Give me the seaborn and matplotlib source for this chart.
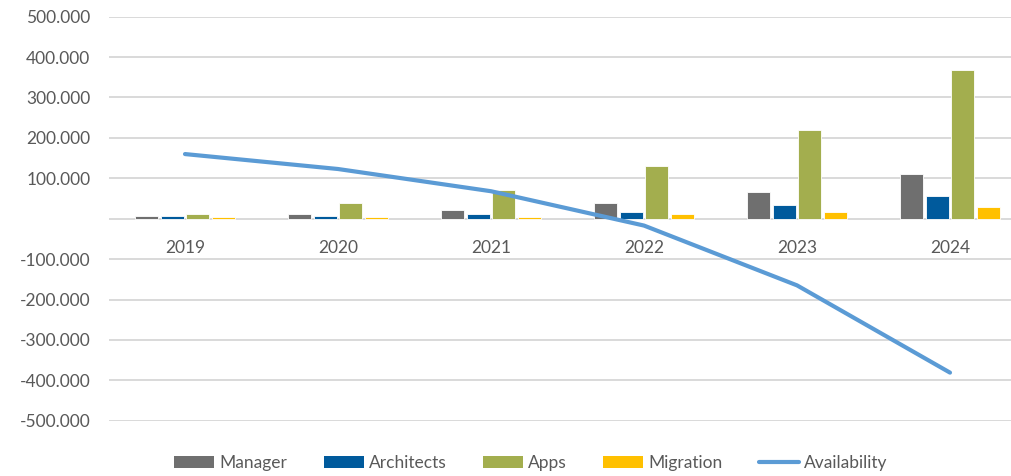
import matplotlib
matplotlib.use("Agg")
from matplotlib import pyplot as plt
from matplotlib.patches import Patch
from matplotlib.lines import Line2D
from matplotlib.ticker import FuncFormatter
import pandas as pd
import numpy as np
import seaborn as sns

years = ["2019", "2020", "2021", "2022", "2023", "2024"]
manager = [6000, 12000, 22000, 39000, 67000, 110000]
architects = [6000, 6000, 12000, 17000, 34000, 55000]
apps = [12000, 40000, 71000, 131000, 219000, 367000]
migration = [5000, 5000, 5000, 12000, 17000, 29000]
availability = [160000, 123000, 68000, -17000, -165000, -381000]

series = ["Manager", "Architects", "Apps", "Migration"]
colors = ["#6f6f6f", "#005a9c", "#a3ae4e", "#ffc000"]
line_color = "#5b9bd5"
text_color = "#595959"

bars = pd.DataFrame({"year": years, "Manager": manager, "Architects": architects,
                     "Apps": apps, "Migration": migration})
bars = bars.melt(id_vars="year", var_name="series", value_name="value")
line = pd.DataFrame({"year": years, "value": availability})

sns.set_theme(style="white")
plt.rcParams["font.family"] = ["Lato", "DejaVu Sans"]

fig = plt.figure(figsize=(10.11, 4.76), dpi=100)
ax = fig.add_axes([108.5 / 1011, 55.3 / 476, 918 / 1011, 404 / 476])

sns.barplot(data=bars, x="year", y="value", hue="series", order=years,
            hue_order=series, palette=colors, saturation=1, width=0.667, gap=0.08,
            edgecolor="white", linewidth=0.6, legend=False, ax=ax, zorder=3)
sns.pointplot(data=line, x="year", y="value", order=years, color=line_color,
              markers="", linestyles="-", errorbar=None, ax=ax, zorder=4)
for l in ax.lines:
    l.set_linewidth(3)
    l.set_solid_capstyle("round")

ax.set_ylim(-500000, 500000)
ax.set_xlim(-0.5, 5.5)
ax.set_yticks(np.arange(-500000, 500001, 100000))
ax.yaxis.set_major_formatter(FuncFormatter(
    lambda v, p: "" if v == 0 else f"{int(v):,}".replace(",", ".")))
ax.grid(axis="y", color="#d9d9d9", linewidth=1.4, zorder=0)
ax.set_axisbelow(True)
for s in ax.spines.values():
    s.set_visible(False)
ax.spines["bottom"].set_position(("data", 0))
ax.tick_params(axis="y", length=0, pad=13, labelsize=12.5, labelcolor=text_color)
ax.tick_params(axis="x", length=0, pad=15, labelsize=12.5, labelcolor=text_color)
ax.set_xlabel("")
ax.set_ylabel("")

handles = [Patch(facecolor=c, edgecolor="none") for c in colors]
handles.append(Line2D([0], [0], color=line_color, linewidth=3))
leg = fig.legend(handles, series + ["Availability"], loc="center",
                 bbox_to_anchor=(531 / 1011, 13 / 476), ncol=5, frameon=False,
                 fontsize=12.5, handlelength=2.3, handleheight=0.75,
                 handletextpad=0.3, columnspacing=2.1)
for t in leg.get_texts():
    t.set_color(text_color)

fig.savefig("out.png", dpi=100)
